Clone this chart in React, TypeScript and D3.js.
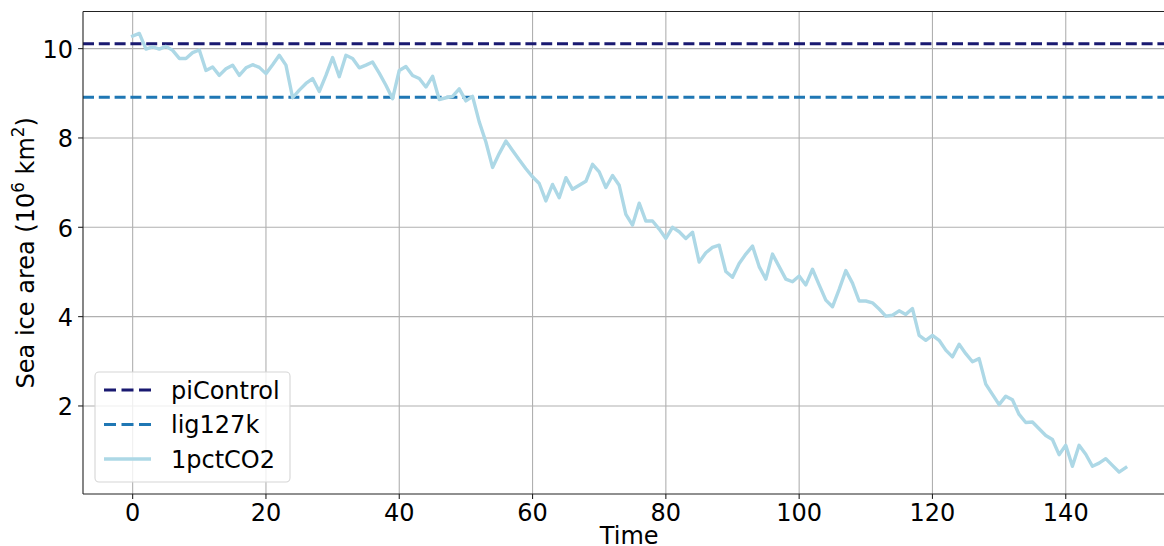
import React from "react";
import * as d3 from "d3";

const years: number[] = Array.from({ length: 150 }, (_, i) => i);
const seaIce1pctCO2: number[] = [
  10.28, 10.34, 9.99, 10.04, 9.99, 10.05, 9.96, 9.78, 9.78, 9.91,
  9.97, 9.51, 9.59, 9.40, 9.55, 9.63, 9.40, 9.57, 9.64, 9.58,
  9.44, 9.64, 9.85, 9.63, 8.90, 9.07, 9.22, 9.33, 9.04, 9.40,
  9.80, 9.37, 9.85, 9.78, 9.57, 9.63, 9.70, 9.45, 9.18, 8.88,
  9.51, 9.60, 9.40, 9.33, 9.14, 9.38, 8.86, 8.90, 8.93, 9.10,
  8.83, 8.93, 8.36, 7.91, 7.34, 7.65, 7.93, 7.72, 7.51, 7.31,
  7.13, 6.98, 6.59, 6.96, 6.66, 7.11, 6.85, 6.94, 7.03, 7.41,
  7.24, 6.89, 7.16, 6.94, 6.29, 6.05, 6.54, 6.14, 6.14, 5.96,
  5.75, 6.00, 5.90, 5.75, 5.89, 5.22, 5.43, 5.55, 5.60, 5.01,
  4.88, 5.19, 5.40, 5.58, 5.12, 4.84, 5.40, 5.12, 4.84, 4.78,
  4.91, 4.71, 5.06, 4.71, 4.37, 4.22, 4.61, 5.03, 4.75, 4.35,
  4.35, 4.31, 4.17, 4.01, 4.03, 4.13, 4.05, 4.18, 3.58, 3.47,
  3.58, 3.47, 3.25, 3.10, 3.38, 3.17, 2.99, 3.06, 2.49, 2.26,
  2.03, 2.22, 2.14, 1.81, 1.63, 1.64, 1.49, 1.34, 1.25, 0.91,
  1.12, 0.65, 1.12, 0.92, 0.65, 0.72, 0.82, 0.67, 0.52, 0.62,
];
const piControlLevel = 10.11;
const lig127kLevel = 8.91;
const xTicks: number[] = [0, 20, 40, 60, 80, 100, 120, 140];
const yTicks: number[] = [2, 4, 6, 8, 10];
const legendLabels: string[] = ["piControl", "lig127k", "1pctCO2"];
const legendColors: string[] = ["#191970", "#1f77b4", "#add8e6"];
const legendDashed: boolean[] = [true, true, false];

const W = 1164;
const H = 546;
const plotLeft = 83;
const plotTop = 11.5;
const plotBottom = 494;
const FONT = "'DejaVu Sans', sans-serif";
const FS = 24;

export default function App() {
  const xMin = d3.min(years)!;
  const xMax = d3.max(years)!;
  const xPad = (xMax - xMin) * 0.05;
  const yMin = d3.min(seaIce1pctCO2)!;
  const yMax = d3.max(seaIce1pctCO2)!;
  const yPad = (yMax - yMin) * 0.05;
  const pxPerUnit = 6.665;
  const plotRight = plotLeft + (xMax - xMin + 2 * xPad) * pxPerUnit;

  const x = d3.scaleLinear().domain([xMin - xPad, xMax + xPad]).range([plotLeft, plotRight]);
  const y = d3.scaleLinear().domain([yMin - yPad, yMax + yPad]).range([plotBottom, plotTop]);

  const line = d3
    .line<number>()
    .x((_, i) => x(years[i]))
    .y((d) => y(d));

  const dash = "11,4.8";

  return (
    <svg
      width={W}
      height={H}
      style={{ position: "absolute", left: 0, top: 0, background: "#fff" }}
      fontFamily={FONT}
    >
      <defs>
        <clipPath id="plotclip">
          <rect x={plotLeft} y={plotTop} width={plotRight - plotLeft} height={plotBottom - plotTop} />
        </clipPath>
      </defs>
      {/* grid */}
      {xTicks.map((t) => (
        <line key={"gx" + t} x1={x(t)} x2={x(t)} y1={plotTop} y2={plotBottom} stroke="#b0b0b0" strokeWidth={1.1} />
      ))}
      {yTicks.map((t) => (
        <line key={"gy" + t} x1={plotLeft} x2={plotRight} y1={y(t)} y2={y(t)} stroke="#b0b0b0" strokeWidth={1.1} />
      ))}
      <g clipPath="url(#plotclip)">
        <line x1={plotLeft} x2={plotRight} y1={y(piControlLevel)} y2={y(piControlLevel)} stroke={legendColors[0]} strokeWidth={3} strokeDasharray={dash} />
        <line x1={plotLeft} x2={plotRight} y1={y(lig127kLevel)} y2={y(lig127kLevel)} stroke={legendColors[1]} strokeWidth={3} strokeDasharray={dash} />
        <path d={line(seaIce1pctCO2) || ""} fill="none" stroke={legendColors[2]} strokeWidth={3.4} strokeLinejoin="round" strokeLinecap="square" />
      </g>
      {/* spines */}
      <line x1={plotLeft} x2={plotLeft} y1={plotTop} y2={plotBottom} stroke="#222" strokeWidth={1.1} />
      <line x1={plotLeft} x2={plotRight} y1={plotBottom} y2={plotBottom} stroke="#222" strokeWidth={1.1} />
      <line x1={plotLeft} x2={plotRight} y1={plotTop} y2={plotTop} stroke="#222" strokeWidth={1.1} />
      <line x1={plotRight} x2={plotRight} y1={plotTop} y2={plotBottom} stroke="#222" strokeWidth={1.1} />
      {/* x ticks */}
      {xTicks.map((t) => (
        <g key={"tx" + t}>
          <line x1={x(t)} x2={x(t)} y1={plotBottom} y2={plotBottom + 4.9} stroke="#222" strokeWidth={1.1} />
          <text x={x(t)} y={520.5} textAnchor="middle" fontSize={FS} fill="#000">
            {t}
          </text>
        </g>
      ))}
      {/* y ticks */}
      {yTicks.map((t) => (
        <g key={"ty" + t}>
          <line x1={plotLeft - 4.9} x2={plotLeft} y1={y(t)} y2={y(t)} stroke="#222" strokeWidth={1.1} />
          <text x={73} y={y(t) + 9.5} textAnchor="end" fontSize={FS} fill="#000">
            {t}
          </text>
        </g>
      ))}
      <text x={(plotLeft + plotRight) / 2} y={544} textAnchor="middle" fontSize={FS} fill="#000">
        Time
      </text>
      <text
        transform={`translate(34,${(plotTop + plotBottom) / 2}) rotate(-90)`}
        textAnchor="middle"
        fontSize={FS}
        fill="#000"
      >
        Sea ice area (10
        <tspan dy={-10} fontSize={FS * 0.7}>6</tspan>
        <tspan dy={10}> km</tspan>
        <tspan dy={-10} fontSize={FS * 0.7}>2</tspan>
        <tspan dy={10}>)</tspan>
      </text>
      {/* legend */}
      <rect x={95} y={372} width={195} height={110} rx={4} fill="#fff" fillOpacity={0.8} stroke="#d6d6d6" strokeWidth={1.1} />
      {legendLabels.map((lab, i) => {
        const cy = 390 + i * 34.5;
        return (
          <g key={lab}>
            <line
              x1={104}
              x2={151}
              y1={cy}
              y2={cy}
              stroke={legendColors[i]}
              strokeWidth={legendDashed[i] ? 3.2 : 3.4}
              strokeDasharray={legendDashed[i] ? "12,5.5" : undefined}
            />
            <text x={171} y={cy + 8.5} fontSize={FS} fill="#000">
              {lab}
            </text>
          </g>
        );
      })}
    </svg>
  );
}
